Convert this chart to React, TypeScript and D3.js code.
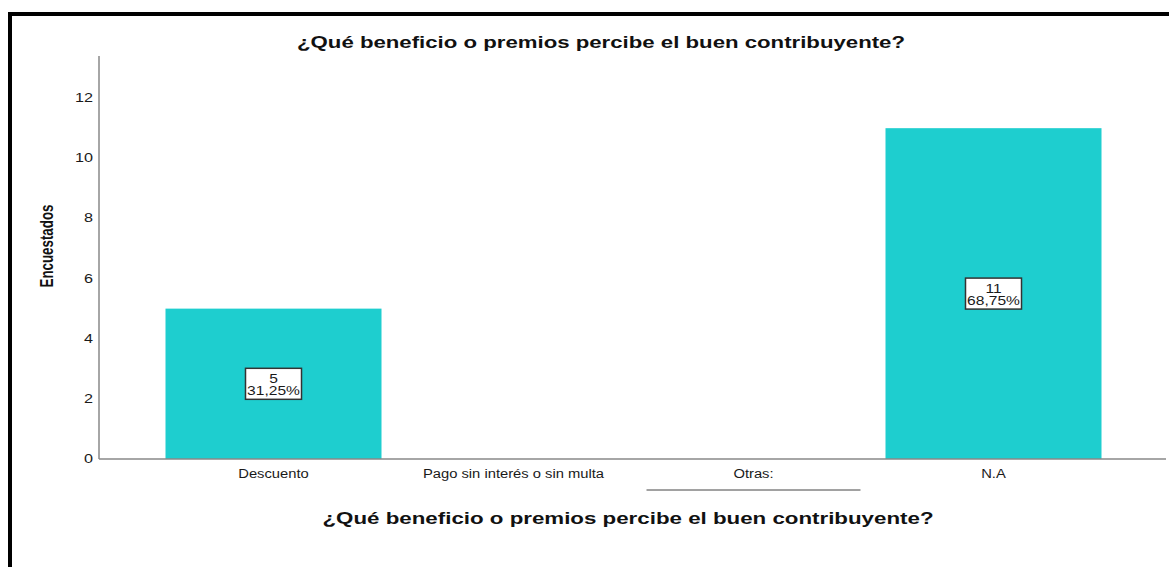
import React from "react";
import * as d3 from "d3";

const categories = ["Descuento", "Pago sin interés o sin multa", "Otras:", "N.A"];
const counts = [5, 0, 0, 11];
const percents = [31.25, 0, 0, 68.75];
const yTicks = [0, 2, 4, 6, 8, 10, 12];
const chartTitle = "¿Qué beneficio o premios percibe el buen contribuyente?";
const yTitle = "Encuestados";

const W = 1169;
const H = 567;
const FONT = "'Liberation Sans', Arial, sans-serif";

function WideText(props: {
  x: number;
  y: number;
  sx: number;
  anchor: "start" | "middle" | "end";
  size: number;
  children: React.ReactNode;
}) {
  return (
    <text
      transform={`translate(${props.x},${props.y}) scale(${props.sx},1)`}
      textAnchor={props.anchor}
      fontFamily={FONT}
      fontSize={props.size}
      fill="#1a1a1a"
    >
      {props.children}
    </text>
  );
}

export default function App() {
  const x = d3
    .scaleBand<string>()
    .domain(categories)
    .range([153.5, 1113.5])
    .paddingInner(0.1)
    .paddingOuter(0.05);
  const y = d3.scaleLinear().domain([0, 13.4]).range([459, 56]);
  const axisLeft = 99;
  const axisRight = 1166;
  const fmt = (v: number) => v.toFixed(2).replace(".", ",") + "%";
  const center = (c: string) => (x(c) as number) + x.bandwidth() / 2;

  return (
    <svg
      width={W}
      height={H}
      style={{ position: "absolute", left: 0, top: 0, display: "block", background: "#fff" }}
    >
      {/* frame */}
      <line x1={10} y1={14} x2={W + 5} y2={14} stroke="#000" strokeWidth={4} />
      <line x1={10} y1={12} x2={10} y2={H + 5} stroke="#000" strokeWidth={4} />

      {/* title */}
      <text
        x={601}
        y={48}
        textAnchor="middle"
        fontFamily={FONT}
        fontWeight="bold"
        fontSize={16}
        textLength={608}
        lengthAdjust="spacingAndGlyphs"
        fill="#111"
      >
        {chartTitle}
      </text>

      {/* bars */}
      {categories.map((c, i) =>
        counts[i] > 0 ? (
          <rect
            key={c}
            x={x(c)}
            y={y(counts[i])}
            width={x.bandwidth()}
            height={y(0) - y(counts[i])}
            fill="#1ececf"
          />
        ) : null
      )}

      {/* axes */}
      <line x1={axisLeft} y1={y(13.4)} x2={axisLeft} y2={y(0)} stroke="#888" strokeWidth={1.5} />
      <line x1={axisLeft} y1={y(0)} x2={axisRight} y2={y(0)} stroke="#888" strokeWidth={1.5} />

      {yTicks.map((t) => (
        <WideText key={t} x={93} y={y(t) + 4} sx={1.35} anchor="end" size={12}>
          {t}
        </WideText>
      ))}

      {/* category labels */}
      {categories.map((c) => (
        <WideText key={c} x={center(c)} y={478} sx={1.23} anchor="middle" size={12}>
          {c}
        </WideText>
      ))}
      {/* underline under "Otras:" */}
      <line
        x1={center("Otras:") - 107}
        x2={center("Otras:") + 107}
        y1={490}
        y2={490}
        stroke="#444"
        strokeWidth={1}
      />

      {/* value labels */}
      {categories.map((c, i) => {
        if (counts[i] <= 0) return null;
        const cx = center(c);
        const cy = y(counts[i] / 2);
        return (
          <g key={c}>
            <rect
              x={cx - 28}
              y={cy - 15.5}
              width={56}
              height={31}
              fill="#fff"
              stroke="#333"
              strokeWidth={1.5}
            />
            <WideText x={cx} y={cy - 1} sx={1.3} anchor="middle" size={12}>
              {counts[i]}
            </WideText>
            <WideText x={cx} y={cy + 11} sx={1.3} anchor="middle" size={12}>
              {fmt(percents[i])}
            </WideText>
          </g>
        );
      })}

      {/* y title */}
      <text
        transform={`translate(53,246) rotate(-90)`}
        textAnchor="middle"
        fontFamily="'Liberation Sans Narrow', 'Arial Narrow', 'Liberation Sans', sans-serif"
        fontWeight="bold"
        fontSize={19}
        textLength={83}
        lengthAdjust="spacingAndGlyphs"
        fill="#111"
      >
        {yTitle}
      </text>

      {/* x title */}
      <text
        x={628}
        y={524}
        textAnchor="middle"
        fontFamily={FONT}
        fontWeight="bold"
        fontSize={16}
        textLength={611}
        lengthAdjust="spacingAndGlyphs"
        fill="#111"
      >
        {chartTitle}
      </text>
    </svg>
  );
}
